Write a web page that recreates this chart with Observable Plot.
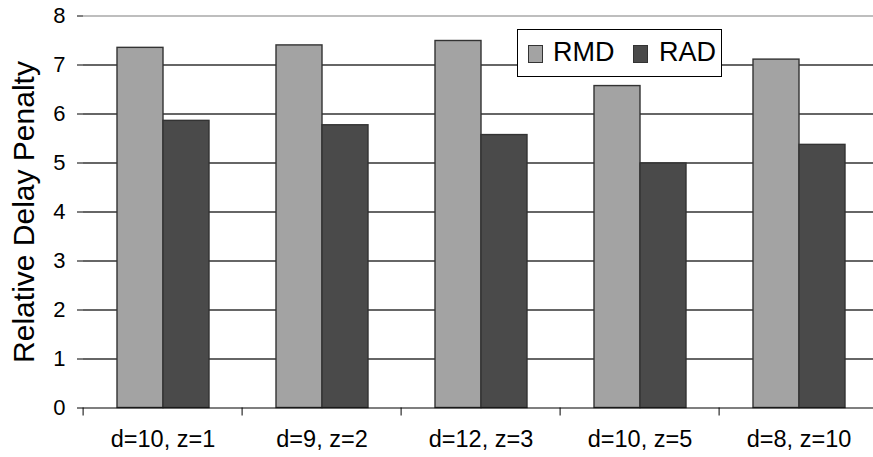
<!DOCTYPE html>
<html><head><meta charset="utf-8">
<script src="https://cdn.jsdelivr.net/npm/d3@7"></script>
<script src="https://cdn.jsdelivr.net/npm/@observablehq/plot@0.6"></script>
<style>
html,body{margin:0;padding:0;overflow:hidden;background:#fff;}
#chart{position:relative;width:880px;height:457px;font-family:"Liberation Sans",Arial,Helvetica,sans-serif;}
#chart svg{display:block;}
.legend{position:absolute;left:517px;top:29px;width:203px;height:46px;border:1px solid #000;background:#fff;}
.sw{position:absolute;top:15px;width:13px;height:16px;border:1px solid #333;}
.lt{position:absolute;top:9px;font-size:27px;line-height:27px;color:#000;}
</style>
</head><body>
<div id="chart"></div>
<script>
const categories = ["d=10, z=1", "d=9, z=2", "d=12, z=3", "d=10, z=5", "d=8, z=10"];
const series = ["RMD", "RAD"];
const rmd = [7.35, 7.40, 7.49, 6.57, 7.11];
const rad = [5.86, 5.77, 5.57, 4.99, 5.37];
const yTicks = [0, 1, 2, 3, 4, 5, 6, 7, 8];
const colors = ["#a3a3a3", "#4a4a4a"];
const yLabel = "Relative Delay Penalty";

const data = categories.flatMap((c, i) => [
  {cat: c, s: "RMD", v: rmd[i]},
  {cat: c, s: "RAD", v: rad[i]}
]);

const W = 880, ML = 81, MR = 0;
const step = (W - ML - MR) / categories.length;

const chart = Plot.plot({
  width: W, height: 457,
  marginTop: 15.5, marginBottom: 49.5, marginLeft: ML, marginRight: MR,
  style: {fontFamily: "'Liberation Sans', Arial, Helvetica, sans-serif", background: "white", color: "#000"},
  fx: {domain: categories, padding: 0, label: null},
  x: {domain: series, paddingInner: 0, paddingOuter: 0.72, axis: null},
  y: {domain: [0, 8], label: null},
  color: {domain: series, range: colors},
  marks: [
    Plot.ruleY(yTicks.filter(d => d > 0 && d < 8), {stroke: "#333", strokeWidth: 1.4}),
    Plot.ruleY([8], {stroke: "#a8a8a8", strokeWidth: 1.3}),
    Plot.barY(data, {fx: "cat", x: "s", y: "v", fill: "s", stroke: "#333", strokeWidth: 1.4, inset: 0}),
    Plot.ruleY([0], {stroke: "#000", strokeWidth: 1.2}),
    Plot.axisY(yTicks, {tickSize: 6, tickPadding: 12, fontSize: 22, line: true, label: null, stroke: "#000"}),
    Plot.axisY([], {tickSize: 0, text: null, label: yLabel, labelArrow: "none", labelAnchor: "center", labelOffset: 71, fontSize: 30}),
    Plot.axisFx({anchor: "bottom", tickSize: 0, tickPadding: 22, fontSize: 23.5, label: null}),
    Plot.axisFx({anchor: "bottom", tickSize: 8, text: null, label: null, dx: -step / 2, stroke: "#000"})
  ]
});
const root = document.getElementById("chart");
root.appendChild(chart);

// legend (HTML text)
const lg = document.createElement("div");
lg.className = "legend";
const swLeft = [10, 115], txLeft = [35, 141];
series.forEach((s, i) => {
  const sw = document.createElement("div");
  sw.className = "sw"; sw.style.left = swLeft[i] + "px"; sw.style.background = colors[i];
  const t = document.createElement("div");
  t.className = "lt"; t.style.left = txLeft[i] + "px"; t.textContent = s;
  lg.appendChild(sw); lg.appendChild(t);
});
root.appendChild(lg);
</script>
</body></html>
